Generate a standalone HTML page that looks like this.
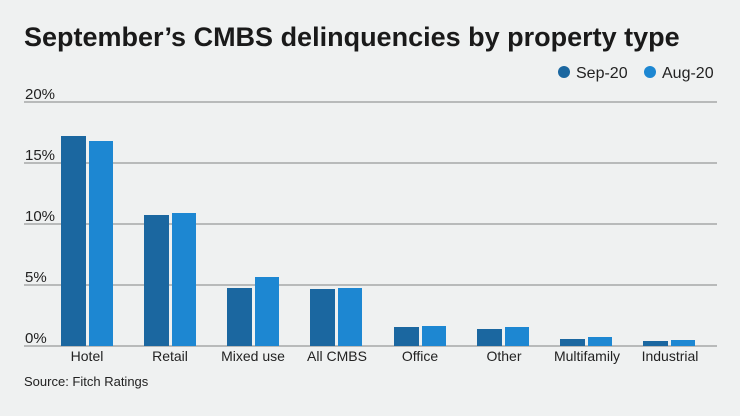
<!DOCTYPE html>
<html><head><style>
body{margin:0;background:#eff1f1;}
svg{display:block;font-family:"Liberation Sans",sans-serif;}
</style></head><body>
<svg width="740" height="416" viewBox="0 0 740 416">
<rect width="740" height="416" fill="#eff1f1"/>
<text x="24" y="46" font-size="27" font-weight="bold" fill="#1a1a1a">September’s CMBS delinquencies by property type</text>
<circle cx="564" cy="72" r="6" fill="#1b67a0"/>
<text x="576" y="78" font-size="16" fill="#222">Sep-20</text>
<circle cx="650" cy="72" r="6" fill="#1d87d2"/>
<text x="662" y="78" font-size="16" fill="#222">Aug-20</text>
<g stroke="#a6a8a8" stroke-width="1.5">
<line x1="24" y1="102" x2="717" y2="102"/>
<line x1="24" y1="163" x2="717" y2="163"/>
<line x1="24" y1="224" x2="717" y2="224"/>
<line x1="24" y1="285" x2="717" y2="285"/>
<line x1="24" y1="346" x2="717" y2="346"/>
</g>
<g font-size="15" fill="#222">
<text x="25" y="99">20%</text>
<text x="25" y="160">15%</text>
<text x="25" y="221">10%</text>
<text x="25" y="282">5%</text>
<text x="25" y="343">0%</text>
</g>
<g fill="#1b67a0">
<rect x="61" y="136" width="25" height="210"/>
<rect x="144" y="215" width="25" height="131"/>
<rect x="227" y="288" width="25" height="58"/>
<rect x="310" y="289" width="25" height="57"/>
<rect x="394" y="327" width="25" height="19"/>
<rect x="477" y="329" width="25" height="17"/>
<rect x="560" y="339" width="25" height="7"/>
<rect x="643" y="341" width="25" height="5"/>
</g>
<g fill="#1d87d2">
<rect x="89" y="141" width="24" height="205"/>
<rect x="172" y="213" width="24" height="133"/>
<rect x="255" y="277" width="24" height="69"/>
<rect x="338" y="288" width="24" height="58"/>
<rect x="422" y="326" width="24" height="20"/>
<rect x="505" y="327" width="24" height="19"/>
<rect x="588" y="337" width="24" height="9"/>
<rect x="671" y="340" width="24" height="6"/>
</g>
<g font-size="14" fill="#222" text-anchor="middle">
<text x="87" y="361">Hotel</text>
<text x="170" y="361">Retail</text>
<text x="253" y="361">Mixed use</text>
<text x="337" y="361">All CMBS</text>
<text x="420" y="361">Office</text>
<text x="504" y="361">Other</text>
<text x="587" y="361">Multifamily</text>
<text x="670" y="361">Industrial</text>
</g>
<text x="24" y="386" font-size="13" fill="#222">Source: Fitch Ratings</text>
</svg>
</body></html>
